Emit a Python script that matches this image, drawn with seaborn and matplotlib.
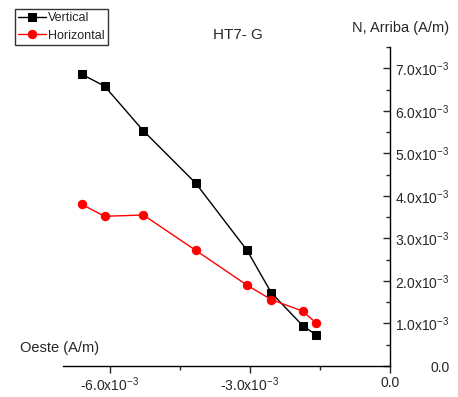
import numpy as np
import pandas as pd
import seaborn as sns
import matplotlib
matplotlib.use("Agg")
import matplotlib.pyplot as plt
from matplotlib.ticker import FuncFormatter, MultipleLocator

# values (A/m)
x_vals = [-6.60e-3, -6.11e-3, -5.28e-3, -4.16e-3, -3.06e-3, -2.54e-3, -1.87e-3, -1.58e-3]
vertical = [6.86e-3, 6.58e-3, 5.53e-3, 4.30e-3, 2.72e-3, 1.72e-3, 0.95e-3, 0.73e-3]
horizontal = [3.80e-3, 3.52e-3, 3.55e-3, 2.72e-3, 1.90e-3, 1.56e-3, 1.29e-3, 1.01e-3]
title = "HT7- G"

sns.set_style("white")
plt.rcParams['font.family'] = ['Liberation Sans', 'DejaVu Sans']
plt.rcParams['mathtext.fontset'] = 'custom'
plt.rcParams['mathtext.rm'] = 'Liberation Sans'
plt.rcParams['mathtext.default'] = 'regular'

fig = plt.figure(figsize=(4.58, 3.97), dpi=100)
ax = fig.add_axes([63 / 458, 1 - 366 / 397, (390 - 63) / 458, (366 - 47) / 397])

sns.lineplot(x=x_vals, y=vertical, ax=ax, color='black', marker='s', markersize=5.5,
             markeredgecolor='black', linewidth=1, sort=False, label='Vertical')
sns.lineplot(x=x_vals, y=horizontal, ax=ax, color='red', marker='o', markersize=6,
             markeredgecolor='red', linewidth=1, sort=False, label='Horizontal')

ax.set_xlim(-7.0e-3, 0)
ax.set_ylim(0, 7.5e-3)

for s in ['top', 'left']:
    ax.spines[s].set_visible(False)
for s in ['bottom', 'right']:
    ax.spines[s].set_color('black')
    ax.spines[s].set_linewidth(1)

def fmt(v, pos):
    if abs(v) < 1e-12:
        return '0.0'
    return f'{v * 1e3:.1f}x10$^{{-3}}$'

ax.xaxis.set_major_locator(MultipleLocator(3e-3))
ax.xaxis.set_minor_locator(MultipleLocator(1.5e-3))
ax.yaxis.set_major_locator(MultipleLocator(1e-3))
ax.yaxis.set_minor_locator(MultipleLocator(0.5e-3))
ax.xaxis.set_major_formatter(FuncFormatter(fmt))
ax.yaxis.set_major_formatter(FuncFormatter(fmt))
ax.yaxis.tick_right()
ax.tick_params(axis='x', which='major', direction='out', length=5, width=1, labelsize=10, pad=2, bottom=True)
ax.tick_params(axis='x', which='minor', direction='out', length=3, width=1, bottom=True)
ax.tick_params(axis='y', which='major', direction='in', length=5, width=1, labelsize=10, pad=43, right=True, left=False)
ax.tick_params(axis='y', which='minor', direction='in', length=3, width=1, right=True, left=False)
plt.setp(ax.get_yticklabels(), ha='right')

ax.set_xlabel('')
ax.set_ylabel('')
fig.text(238 / 458, 1 - 35 / 397, title, ha='center', va='center', fontsize=11)
fig.text(401 / 458, 1 - 28 / 397, 'N, Arriba (A/m)', ha='center', va='center', fontsize=10.5)
fig.text(20 / 458, 1 - 348 / 397, 'Oeste (A/m)', ha='left', va='center', fontsize=10.5)

leg = ax.legend(loc='upper left', bbox_to_anchor=(15 / 458, 1 - 9 / 397), bbox_transform=fig.transFigure,
                frameon=True, fancybox=False, fontsize=9, borderpad=0.25, labelspacing=0.45,
                handlelength=2.2, handletextpad=0.2, borderaxespad=0)
leg.get_frame().set_edgecolor('black')
leg.get_frame().set_linewidth(1)

fig.savefig('out.png', dpi=100)
